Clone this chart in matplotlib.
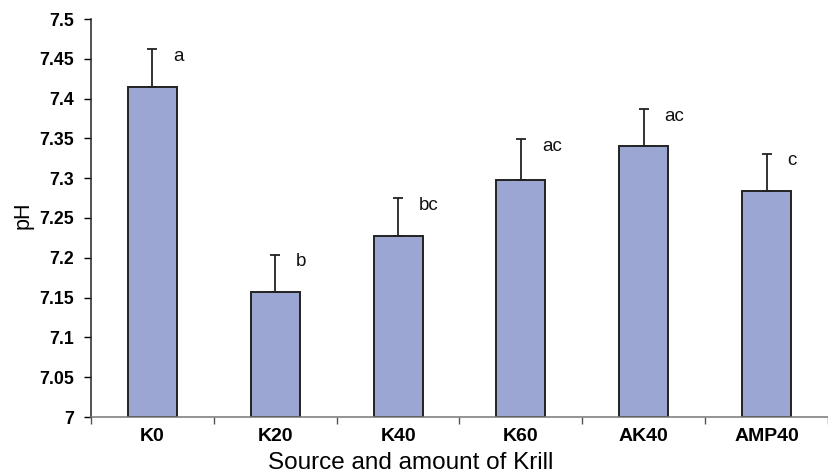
import matplotlib
matplotlib.use("Agg")
import matplotlib.pyplot as plt
import numpy as np

categories = ["K0", "K20", "K40", "K60", "AK40", "AMP40"]
means = [7.414, 7.157, 7.228, 7.298, 7.340, 7.284]
errors = [0.048, 0.047, 0.047, 0.051, 0.047, 0.047]
letters = ["a", "b", "bc", "ac", "ac", "c"]
yticks = [7.0, 7.05, 7.1, 7.15, 7.2, 7.25, 7.3, 7.35, 7.4, 7.45, 7.5]
ytick_labels = ["7", "7.05", "7.1", "7.15", "7.2", "7.25", "7.3", "7.35", "7.4", "7.45", "7.5"]

plt.rcParams['font.family'] = ['Liberation Sans', 'DejaVu Sans']

fig = plt.figure(figsize=(8.29, 4.75), dpi=100)
ax = fig.add_axes([91/829, 1 - 417/475, (828 - 91)/829, (417 - 19)/475])

x = np.arange(len(categories))
ax.bar(x, np.array(means) - 7.0, bottom=7.0, width=0.4, color="#9BA6D2",
       edgecolor="#222222", linewidth=1.4, zorder=2)
ax.errorbar(x, means, yerr=[np.zeros(len(errors)), errors], fmt="none",
            ecolor="#222222", elinewidth=1.3, capsize=3.8, capthick=1.3, zorder=3)

for xi, m, e, l in zip(x, means, errors, letters):
    ax.text(xi + 0.17, m + e - 0.009, l, fontsize=13.5, ha="left", va="center", color="#111111")

ax.set_xlim(-0.5, len(categories) - 0.5)
ax.set_ylim(7.0, 7.5)
ax.set_yticks(yticks)
ax.set_yticklabels(ytick_labels, fontsize=12.8, fontweight="bold")
ax.set_xticks(x)
ax.set_xticklabels(categories, fontsize=14, fontweight="bold")
ax.tick_params(axis="x", length=0, pad=8)
ax.set_xticks(np.arange(len(categories) + 1) - 0.5, minor=True)
ax.tick_params(axis="x", which="minor", length=5, width=1, color="#555555", direction="out")
ax.tick_params(axis="y", length=5, width=1, direction="out", pad=7)

for s in ["top", "right"]:
    ax.spines[s].set_visible(False)
ax.spines["left"].set_color("#222222")
ax.spines["bottom"].set_color("#777777")
ax.spines["left"].set_linewidth(1.1)
ax.spines["bottom"].set_linewidth(1.1)

fig.text(411/829, 1 - 463/475, "Source and amount of Krill", fontsize=17.5,
         ha="center", va="center")
fig.text(23/829, 1 - 215/475, "pH", fontsize=15.5, rotation=90,
         ha="center", va="center")

fig.savefig("out.png", dpi=100)
